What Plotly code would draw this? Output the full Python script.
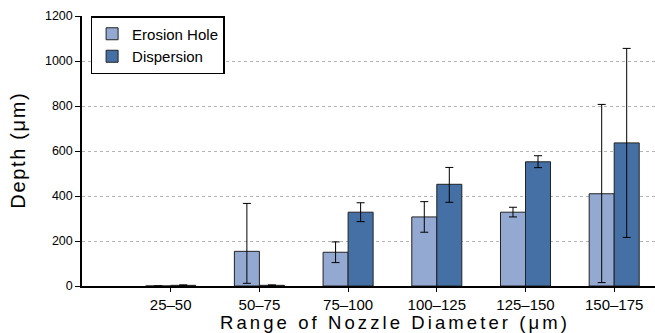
import plotly.graph_objects as go

categories = ["25–50", "50–75", "75–100", "100–125", "125–150", "150–175"]
erosion = [0, 154, 150, 307, 328, 410]
erosion_plus = [0, 213, 46, 68, 22, 397]
erosion_minus = [0, 142, 46, 68, 21, 395]
dispersion = [3, 3, 328, 452, 552, 636]
dispersion_plus = [2, 2, 42, 75, 27, 420]
dispersion_minus = [2, 2, 42, 80, 26, 420]
y_ticks = [0, 200, 400, 600, 800, 1000, 1200]

positions = [i + 1 for i in range(len(categories))]

def spaced(s, sep):
    return sep.join(list(s))

fig = go.Figure()
fig.add_trace(go.Bar(
    x=positions, y=erosion, name="Erosion Hole",
    marker=dict(color="#94a9d1", line=dict(color="#222222", width=1)),
    error_y=dict(type="data", array=erosion_plus, arrayminus=erosion_minus,
                 symmetric=False, color="black", thickness=1, width=4),
))
fig.add_trace(go.Bar(
    x=positions, y=dispersion, name="Dispersion",
    marker=dict(color="#4470a6", line=dict(color="#222222", width=1)),
    error_y=dict(type="data", array=dispersion_plus, arrayminus=dispersion_minus,
                 symmetric=False, color="black", thickness=1, width=4),
))

fig.update_layout(
    width=655, height=333,
    margin=dict(l=82, r=0, t=16, b=47),
    paper_bgcolor="white", plot_bgcolor="white",
    barmode="group", bargap=0.436, bargroupgap=0,
    font=dict(family="Liberation Sans, Arial, sans-serif", size=13, color="black"),
    showlegend=True,
    legend=dict(x=0.015, y=1, xanchor="left", yanchor="top",
                bgcolor="white", bordercolor="black", borderwidth=1.5,
                font=dict(size=15), tracegroupgap=0,
                traceorder="normal"),
    xaxis=dict(range=[0, 6.46], tickvals=positions, ticktext=categories,
               tickfont=dict(size=15),
               showline=True, linecolor="black", linewidth=1.5,
               ticks="outside", ticklen=4, tickcolor="black",
               showgrid=False, zeroline=False, fixedrange=True),
    yaxis=dict(range=[0, 1200], tickvals=y_ticks,
               tickfont=dict(size=12.5),
               showline=True, linecolor="black", linewidth=1.5,
               ticks="outside", ticklen=5, tickcolor="black",
               showgrid=True, gridcolor="#b4b4b4", griddash="dot", gridwidth=1,
               zeroline=False,
               title=dict(text=spaced("Depth (μm)", "\u200a"), standoff=14,
                          font=dict(family="Liberation Sans, Arial", size=20))),
    annotations=[dict(text=spaced("Range of Nozzle Diameter (μm)", "\u200a\u200a"),
                      xref="paper", yref="paper", x=(393 - 82) / 573, y=0,
                      yshift=-36, xanchor="center", yanchor="middle", showarrow=False,
                      font=dict(family="Liberation Sans, Arial", size=18.5))],
)

fig.write_html("out.html")
